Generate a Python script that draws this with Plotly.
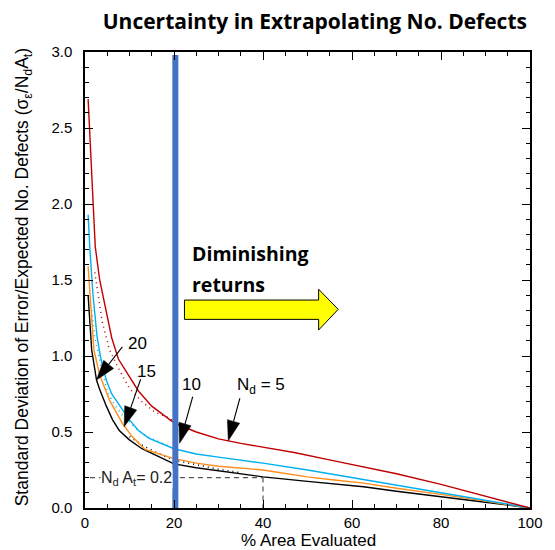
import math
import plotly.graph_objects as go

# ---- data ----
red_x = [0.7, 1.5, 2.3, 3.3, 4.8, 6.0, 7.5, 10, 12, 15, 20, 25, 30, 35, 40, 47, 56, 62.6, 70, 80, 90, 100]
red_y = [2.69, 2.21, 1.72, 1.50, 1.28, 1.12, 0.98, 0.86, 0.77, 0.67, 0.56, 0.50, 0.455, 0.425, 0.40, 0.365, 0.31, 0.272, 0.225, 0.155, 0.08, 0.0]

cyan_x = [0.7, 1.1, 1.8, 2.7, 3.5, 4.8, 6.0, 8.4, 10, 12, 14.3, 20, 25, 30, 40, 50, 56, 62.6, 70, 80, 90, 100]
cyan_y = [1.93, 1.70, 1.40, 1.13, 0.99, 0.84, 0.75, 0.645, 0.58, 0.51, 0.46, 0.39, 0.355, 0.335, 0.295, 0.25, 0.22, 0.19, 0.153, 0.105, 0.053, 0.0]

orange_x = [0.7, 1.3, 2.0, 3.3, 5.5, 8.4, 10.6, 13.5, 20, 25, 30, 40, 50, 56, 62.6, 70, 80, 90, 100]
orange_y = [1.59, 1.32, 1.04, 0.875, 0.71, 0.557, 0.47, 0.385, 0.325, 0.295, 0.275, 0.25, 0.205, 0.184, 0.164, 0.13, 0.09, 0.045, 0.0]

black_x = [0.7, 1.5, 2.6, 3.3, 4.8, 6.2, 7.7, 9.9, 12.8, 20, 25, 30, 40, 50, 56, 62.6, 70, 80, 90, 100]
black_y = [1.40, 1.04, 0.84, 0.78, 0.67, 0.58, 0.51, 0.45, 0.39, 0.29, 0.265, 0.245, 0.205, 0.175, 0.158, 0.14, 0.11, 0.075, 0.038, 0.0]

red_dot_x = [2.2, 3.3, 3.9, 4.8, 5.5, 7.7, 9.9, 12.8, 15.7, 18.7, 21]
red_dot_y = [1.55, 1.35, 1.22, 1.12, 1.04, 0.91, 0.79, 0.70, 0.63, 0.595, 0.55]

cyan_dot_x = [1.5, 2.2, 3.7, 5.1, 6.6, 8.4, 9.9, 11.4, 14, 17, 19.4]
cyan_dot_y = [1.30, 1.12, 0.92, 0.76, 0.68, 0.61, 0.57, 0.525, 0.47, 0.43, 0.40]

black_dot_x = [10, 13, 16, 20, 25, 30, 35]
black_dot_y = [0.47, 0.41, 0.365, 0.315, 0.285, 0.255, 0.232]

threshold_y = 0.2
threshold_x = 40
marker_x = 20.3

x_ticks = [0, 20, 40, 60, 80, 100]
y_ticks = [0.0, 0.5, 1.0, 1.5, 2.0, 2.5, 3.0]

RED = "#C00000"
CYAN = "#00B0F0"
ORANGE = "#FF8C1A"
BLACK = "#000000"
BLUE = "#4472C4"

# plot area geometry (pixels per data unit) used to shape decorative arrowheads
PLOT_W, PLOT_H = 455, 456
SX, SY = PLOT_W / 100.0, PLOT_H / 3.0

fig = go.Figure()

def line(x, y, color, dash="solid", width=1.4):
    fig.add_trace(go.Scatter(x=x, y=y, mode="lines", showlegend=False,
                             line=dict(color=color, width=width, dash=dash),
                             hoverinfo="skip"))

line(red_dot_x, red_dot_y, RED, "1px,4px", 1.5)
line(cyan_dot_x, cyan_dot_y, CYAN, "1px,4px", 1.5)
line(black_dot_x, black_dot_y, BLACK, "1px,4px", 1.5)
line(black_x, black_y, BLACK)
line(orange_x, orange_y, ORANGE)
line(cyan_x, cyan_y, CYAN)
line(red_x, red_y, RED)

# dashed threshold
line([1.1, threshold_x], [threshold_y, threshold_y], "#555555", "5px,4px", 1.2)
line([threshold_x, threshold_x], [threshold_y, 0], "#555555", "5px,4px", 1.2)

# blue vertical line
line([marker_x, marker_x], [0, 2.98], BLUE, "solid", 6)

# yellow arrow (shape)
ax0, ax1, ax2 = 22.35, 52.5, 56.9
ys_top, ys_bot, yh_top, yh_bot, y_tip = 1.368, 1.241, 1.439, 1.171, 1.307
path = (f"M {ax0},{ys_top} L {ax1},{ys_top} L {ax1},{yh_top} L {ax2},{y_tip} "
        f"L {ax1},{yh_bot} L {ax1},{ys_bot} L {ax0},{ys_bot} Z")
fig.add_shape(type="path", path=path, xref="x", yref="y",
              fillcolor="#FFFF00", line=dict(color="#000000", width=1))

# black pointer arrows: (tip x, tip y, tail x, tail y)
arrows = [
    (2.57, 0.842, 8.4, 1.06),
    (8.8, 0.535, 12.5, 0.847),
    (21.25, 0.426, 24.2, 0.732),
    (32.2, 0.443, 34.8, 0.722),
]
HEAD_L, HEAD_W = 20.0, 6.5
for (tx, ty, sx, sy) in arrows:
    dx, dy = (tx - sx) * SX, (ty - sy) * SY
    n = math.hypot(dx, dy)
    ux, uy = dx / n, dy / n
    px, py = -uy, ux
    bx, by = tx * SX - ux * HEAD_L, ty * SY - uy * HEAD_L
    p1 = ((bx + px * HEAD_W) / SX, (by + py * HEAD_W) / SY)
    p2 = ((bx - px * HEAD_W) / SX, (by - py * HEAD_W) / SY)
    fig.add_shape(type="line", xref="x", yref="y", x0=sx, y0=sy, x1=bx / SX, y1=by / SY,
                  line=dict(color="black", width=1.1))
    fig.add_shape(type="path", xref="x", yref="y",
                  path=f"M {tx},{ty} L {p1[0]},{p1[1]} L {p2[0]},{p2[1]} Z",
                  fillcolor="black", line=dict(color="black", width=0.5))

ann = []
lab_font = dict(family="Liberation Sans, Arial", size=17, color="black")
ann.append(dict(x=11.9, y=1.08, text="20", showarrow=False, xref="x", yref="y", font=lab_font))
ann.append(dict(x=13.8, y=0.90, text="15", showarrow=False, xref="x", yref="y", font=lab_font))
ann.append(dict(x=24.0, y=0.81, text="10", showarrow=False, xref="x", yref="y", font=lab_font))
ann.append(dict(x=33.6, y=0.80, text="N<sub>d</sub> = 5", showarrow=False, xref="x", yref="y",
                xanchor="left", font=lab_font))
ann.append(dict(x=3.3, y=0.195, text="N<sub>d</sub> A<sub>t</sub>= 0.2", showarrow=False,
                xref="x", yref="y", xanchor="left", bgcolor="white", borderpad=0,
                font=dict(family="Liberation Sans, Arial", size=16, color="#222222")))

big = dict(family="Open Sans", size=19.5, color="black")
ann.append(dict(x=23.5, y=1.675, text="<b>Diminishing</b>", showarrow=False, xref="x", yref="y",
                xanchor="left", font=big))
ann.append(dict(x=23.5, y=1.47, text="<b>returns</b>", showarrow=False, xref="x", yref="y",
                xanchor="left", font=big))

ann.append(dict(x=-0.138, y=0.505, xref="paper", yref="paper", xanchor="center", yanchor="middle",
                textangle=-90, showarrow=False,
                text="Standard Deviation of Error/Expected No. Defects (σ<sub>ε</sub>/N<sub>d</sub>A<sub>t</sub>)",
                font=dict(family="Liberation Sans, Arial", size=17.5, color="black")))
ann.append(dict(x=0.503, y=-0.072, xref="paper", yref="paper", xanchor="center", yanchor="middle",
                showarrow=False,
                text="% Area Evaluated", font=dict(family="Liberation Sans, Arial", size=17, color="black")))

# page body adds an 8px margin; size the figure so the plot lands where the reference has it
fig.update_layout(
    width=547, height=542,
    margin=dict(l=77, r=15, t=44, b=42),
    paper_bgcolor="white", plot_bgcolor="white",
    title=dict(text="<b>Uncertainty in Extrapolating No. Defects</b>", x=0.561, xanchor="center",
               y=0.975, yanchor="middle", font=dict(family="Open Sans", size=21, color="black")),
    annotations=ann,
)
axis_common = dict(showgrid=False, zeroline=False, showline=True, linecolor="black", linewidth=1.5,
                   mirror="ticks", ticks="inside", ticklen=8, tickwidth=1.2, tickcolor="black",
                   tickfont=dict(family="Liberation Sans, Arial", size=15, color="black"))
fig.update_xaxes(range=[0, 100], tickvals=x_ticks, minor=dict(dtick=5, ticks="inside", ticklen=4, tickcolor="black"),
                 **axis_common)
fig.update_yaxes(range=[0, 3], tickvals=y_ticks, tickformat=".1f", ticklabelstandoff=8,
                 minor=dict(dtick=0.1, ticks="inside", ticklen=4, tickcolor="black"), **axis_common)

fig.write_html("out.html")
